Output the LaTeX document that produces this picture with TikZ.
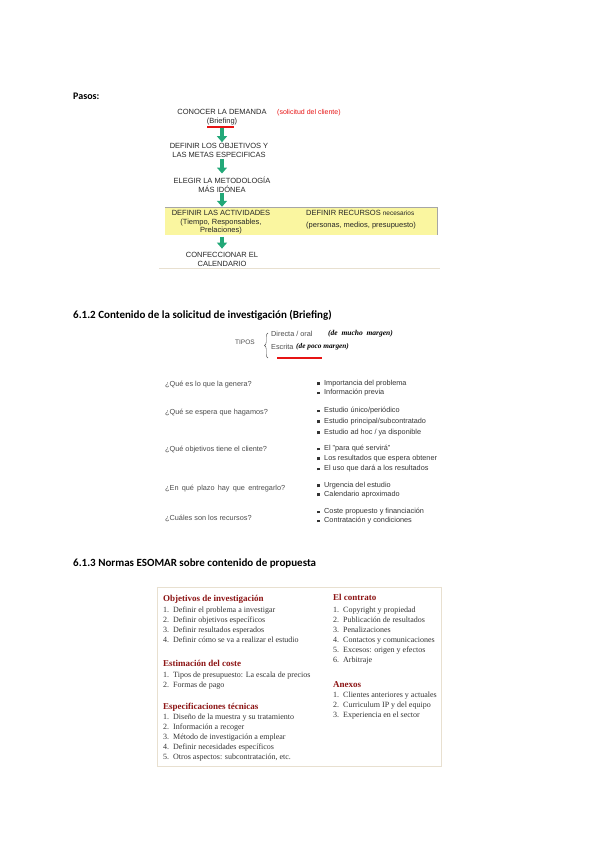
\documentclass[tikz,border=0pt]{standalone}
\usepackage{fontspec}
\setmainfont{Liberation Serif}
\setsansfont{Liberation Sans}
\newfontfamily\calibri{Carlito}
\usetikzlibrary{arrows.meta,decorations.pathreplacing}

\definecolor{verdepaso}{RGB}{34,168,120}
\definecolor{amarillo}{RGB}{250,246,160}
\definecolor{beige}{RGB}{232,224,208}
\definecolor{rojonota}{RGB}{230,20,20}
\definecolor{granate}{RGB}{140,20,20}
\definecolor{gristexto}{RGB}{75,75,75}

\newcommand{\punto}{\raisebox{0.6pt}{\rule{2.8pt}{2.8pt}}\hspace{4.2pt}}
\newcommand{\nro}[1]{\makebox[10pt][l]{#1.}}

\tikzset{
  titulo/.style={anchor=west, inner sep=0pt, font=\calibri\bfseries\fontsize{11}{13}\selectfont},
  paso/.style={align=center, inner sep=1pt, text=black!85, font=\sffamily\fontsize{7.5}{9}\selectfont},
  flecha/.style={verdepaso, line width=4pt, -{Triangle[width=10pt,length=6pt]}},
  pregunta/.style={anchor=west, inner sep=0pt, text=gristexto, font=\sffamily\fontsize{7.3}{9}\selectfont},
  respuesta/.style={anchor=west, inner sep=0pt, text=black!80, font=\sffamily\fontsize{7.3}{9}\selectfont},
  margen/.style={anchor=west, inner sep=0pt, text=black, font=\bfseries\itshape\fontsize{7.5}{9}\selectfont},
  subraya/.style={fill=rojonota},
  apartado/.style={anchor=base west, inner sep=0pt, text=granate, font=\bfseries\fontsize{9}{11}\selectfont},
  % base = baseline of the last line
  lista/.style={anchor=base west, inner sep=0pt, align=left, text=black!80, font=\fontsize{8}{10}\selectfont},
}

\begin{document}
\begin{tikzpicture}[x=1pt, y=-1pt]
    \useasboundingbox (0,0) rectangle (600,848);

    % Pasos
    \node[titulo, font=\calibri\bfseries\fontsize{10}{12}\selectfont] (pasos) at (73,96) {Pasos:};

    \node[paso] (demanda) at (222,117.5) {CONOCER LA DEMANDA\\(Briefing)};
    \node[anchor=west, inner sep=0pt, text=rojonota, font=\sffamily\fontsize{7}{9}\selectfont] (solicitud) at (277,113) {(solicitud del cliente)};
    \fill[subraya] (207,126.3) rectangle (234,127.8);

    \node[paso] (objetivos) at (219,150.5) {DEFINIR LOS OBJETIVOS Y\\LAS METAS ESPECIFICAS};
    \node[paso] (metodologia) at (222,184.5) {ELEGIR LA METODOLOGÍA\\MÁS IDÓNEA};

    % Caja amarilla
    \node[fill=amarillo, minimum width=272pt, minimum height=28pt, inner sep=0pt] (caja) at (301,221) {};
    \draw[gray!70] (caja.north west) -- (caja.north east) -- (caja.south east);
    \node[paso, font=\sffamily\fontsize{7.5}{8.5}\selectfont] (actividades) at (221,222.5) {DEFINIR LAS ACTIVIDADES\\(Tiempo, Responsables,\\Prelaciones)};
    \node[paso, align=left, anchor=west] (recursos) at (305,220) {DEFINIR RECURSOS {\fontsize{6.5}{9}\selectfont necesarios}\\[3pt](personas, medios, presupuesto)};

    \node[paso] (calendario) at (222,259) {CONFECCIONAR EL\\CALENDARIO};
    \draw[beige, line width=1pt] (159,268) -- (440,268);

    % Flechas
    \draw[flecha, shorten <=1.5pt] (demanda.south) -- (demanda.south |- objetivos.north);
    \draw[flecha] (demanda.south |- objetivos.south) -- ([yshift=2pt]demanda.south |- metodologia.north);
    \draw[flecha] (metodologia.south) -- (metodologia.south |- caja.north);
    \draw[flecha, shorten <=1.5pt, shorten >=2pt] (metodologia.south |- caja.south) -- (metodologia.south |- calendario.north);

    % Briefing
    \node[titulo] (briefing) at (73,315) {6.1.2 Contenido de la solicitud de investigación (Briefing)};

    \node[pregunta, font=\sffamily\fontsize{6.5}{8}\selectfont] (tipos) at (235,342) {TIPOS};
    \draw[gristexto, decorate, decoration={brace, amplitude=3.5pt}] (268,358) -- (268,333);
    \node[pregunta] (directa) at (271,334) {Directa / oral};
    \node[margen] (mucho) at (328,334) {(de\ \ mucho\ \ margen)};
    \node[pregunta] (escrita) at (271,347) {Escrita};
    \node[margen, font=\rmfamily\bfseries\itshape\fontsize{7.3}{9}\selectfont] (poco) at (296,347) {(de poco margen)};

    \node[pregunta] (q1) at (165,385) {¿Qué es lo que la genera?};
    \node[respuesta] (r11) at (317,384) {\punto Importancia del problema};
    \node[respuesta] (r12) at (317,393) {\punto Información previa};

    \node[pregunta] (q2) at (165,413) {¿Qué se espera que hagamos?};
    \node[respuesta] (r21) at (317,411) {\punto Estudio único/periódico};
    \node[respuesta] (r22) at (317,422) {\punto Estudio principal/subcontratado};
    \node[respuesta] (r23) at (317,433) {\punto Estudio ad hoc / ya disponible};

    \node[pregunta] (q3) at (165,450) {¿Qué objetivos tiene el cliente?};
    \node[respuesta] (r31) at (317,449) {\punto El "para qué servirá"};
    \node[respuesta] (r32) at (317,459) {\punto Los resultados que espera obtener};
    \node[respuesta] (r33) at (317,469) {\punto El uso que dará a los resultados};

    \node[pregunta] (q4) at (165,489) {\makebox[120pt][s]{¿En qué plazo hay que entregarlo?}};
    \node[respuesta] (r41) at (317,486) {\punto Urgencia del estudio};
    \node[respuesta] (r42) at (317,495) {\punto Calendario aproximado};

    \node[pregunta] (q5) at (165,518) {¿Cuáles son los recursos?};
    \node[respuesta] (r51) at (317,512) {\punto Coste propuesto y financiación};
    \node[respuesta] (r52) at (317,521) {\punto Contratación y condiciones};

    % ESOMAR
    \node[titulo] (esomar) at (73,563) {6.1.3 Normas ESOMAR sobre contenido de propuesta};
    \draw[beige, line width=1pt] (157,587) rectangle (441,766);

    \node[apartado] (objinv) at (163,601) {Objetivos de investigación};
    \node[lista] (l1) at (163,642) {\nro{1}Definir el problema a investigar\\\nro{2}Definir objetivos específicos\\\nro{3}Definir resultados esperados\\\nro{4}Definir cómo se va a realizar el estudio};
    \node[apartado] (coste) at (163,666) {Estimación del coste};
    \node[lista] (l2) at (163,687) {\nro{1}Tipos de presupuesto: La escala de precios\\\nro{2}Formas de pago};
    \node[apartado] (espec) at (163,709) {Especificaciones técnicas};
    \node[lista] (l3) at (163,759) {\nro{1}Diseño de la muestra y su tratamiento\\\nro{2}Información a recoger\\\nro{3}Método de investigación a emplear\\\nro{4}Definir necesidades específicos\\\nro{5}Otros aspectos: subcontratación, etc.};

    \node[apartado] (contrato) at (333,600) {El contrato};
    \node[lista] (l4) at (333,662) {\nro{1}Copyright y propiedad\\\nro{2}Publicación de resultados\\\nro{3}Penalizaciones\\\nro{4}Contactos y comunicaciones\\\nro{5}Excesos: origen y efectos\\\nro{6}Arbitraje};
    \node[apartado] (anexos) at (333,687) {Anexos};
    \node[lista] (l5) at (333,717) {\nro{1}Clientes anteriores y actuales\\\nro{2}Curriculum IP y del equipo\\\nro{3}Experiencia en el sector};

    % Subrayado de Escrita
    \fill[subraya] (277,356.5) rectangle (322,358.5);
\end{tikzpicture}
\end{document}
